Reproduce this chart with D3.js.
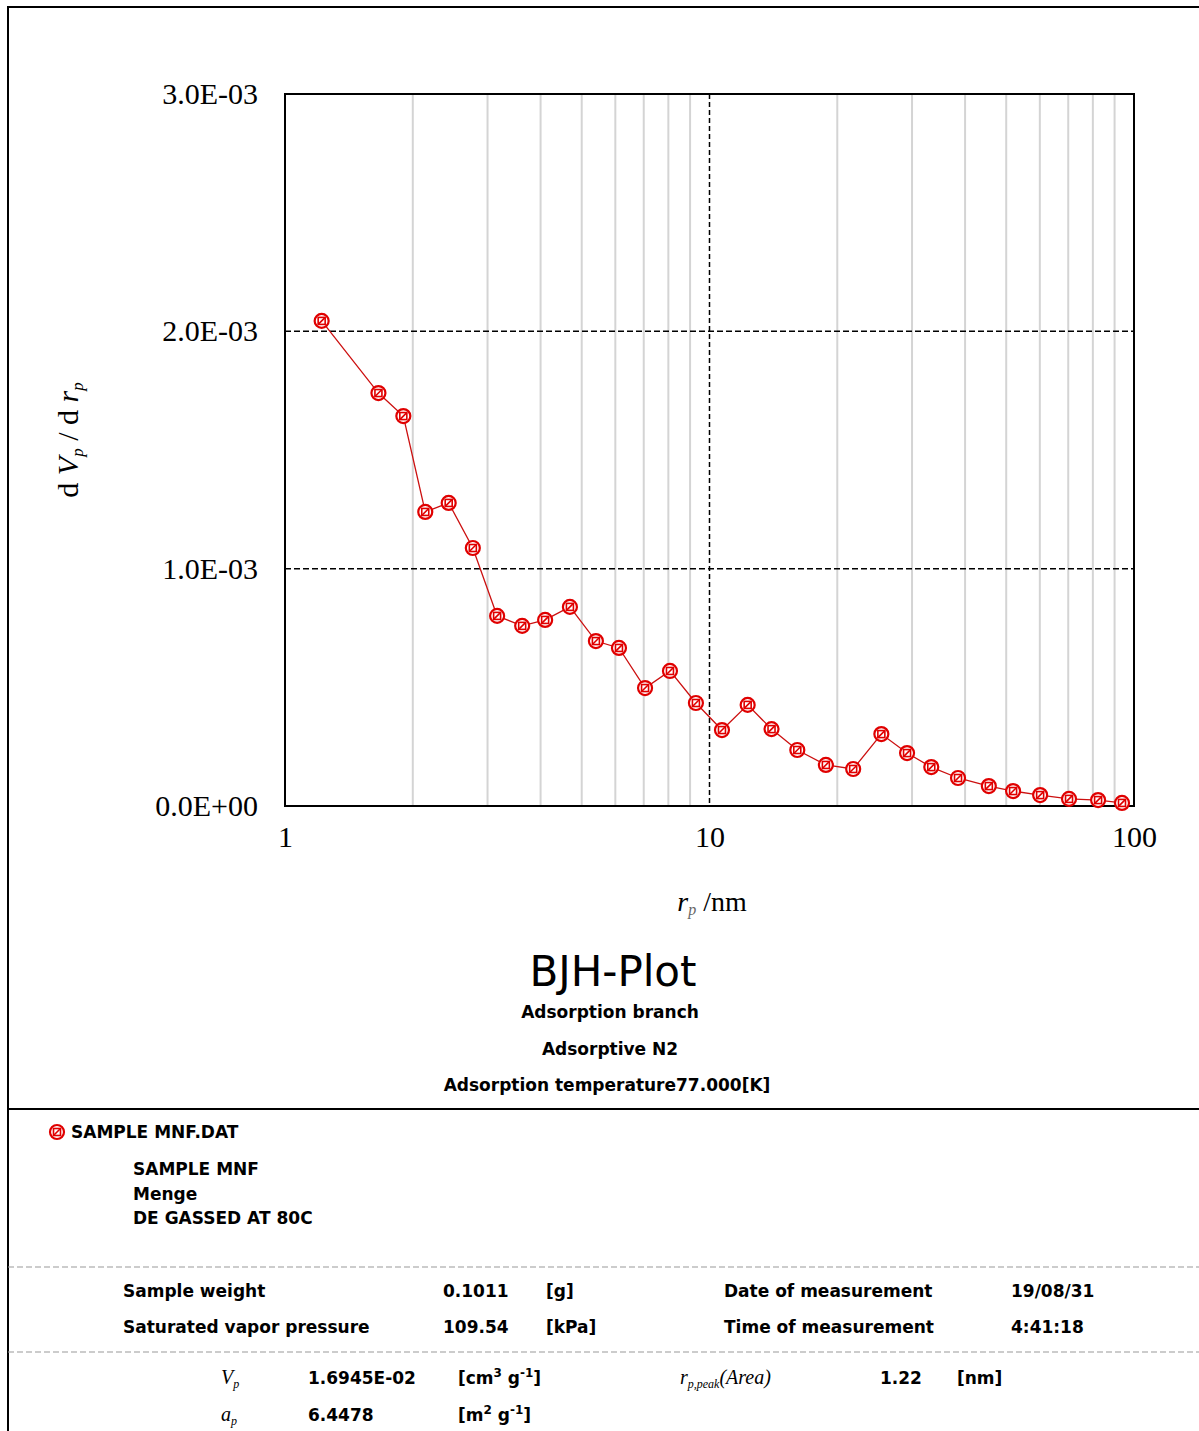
<!DOCTYPE html>
<html>
<head>
<meta charset="utf-8">
<script src="https://cdn.jsdelivr.net/npm/d3@7"></script>
<style>
  html, body { margin: 0; padding: 0; background: #fff; }
  svg { display: block; }
  .serif { font-family: 'Liberation Serif', 'DejaVu Serif', serif; }
  .sans { font-family: 'DejaVu Sans', Verdana, sans-serif; }
</style>
</head>
<body>
<svg id="chart" width="1199" height="1431"></svg>
<script>
// pore radius (nm) and dVp/drp
const rp = [1.22, 1.66, 1.90, 2.14, 2.43, 2.77, 3.16, 3.62, 4.10, 4.69, 5.40, 6.12, 7.05, 8.07, 9.29,
  10.7, 12.3, 14.0, 16.1, 18.8, 21.8, 25.4, 29.2, 33.3, 38.5, 45.5, 51.9, 60.1, 70.3, 82.3, 93.7]
const dVdr = [2.044e-3, 1.740e-3, 1.643e-3, 1.239e-3, 1.277e-3, 1.087e-3, 0.801e-3, 0.759e-3, 0.784e-3,
  0.839e-3, 0.695e-3, 0.666e-3, 0.497e-3, 0.569e-3, 0.434e-3, 0.320e-3, 0.426e-3, 0.324e-3, 0.236e-3,
  0.173e-3, 0.156e-3, 0.303e-3, 0.223e-3, 0.164e-3, 0.118e-3, 0.084e-3, 0.063e-3, 0.046e-3, 0.030e-3,
  0.025e-3, 0.013e-3]

const xTicks = [1, 10, 100]
const yTicks = [0, 1e-3, 2e-3, 3e-3]
const subtitles = ['Adsorption branch', 'Adsorptive N2', 'Adsorption temperature77.000[K]']
const sampleLines = ['SAMPLE MNF', 'Menge', 'DE GASSED AT 80C']
const condLeft = [['Sample weight', '0.1011', '[g]'], ['Saturated vapor pressure', '109.54', '[kPa]']]
const condRight = [['Date of measurement', '19/08/31'], ['Time of measurement', '4:41:18']]

const svg = d3.select('#chart')
const x = d3.scaleLog().domain([1, 100]).range([285, 1134])
const y = d3.scaleLinear().domain([0, 3e-3]).range([806, 94])
const FS = 17

const fmtE = (v) => {
  const [m, e] = v.toExponential(1).split('e')
  const n = +e
  return `${m}E${n < 0 ? '-' : '+'}${String(Math.abs(n)).padStart(2, '0')}`
}

// outer page frame
svg.append('rect').attr('x', 8).attr('y', 7).attr('width', 1300).attr('height', 1600)
  .attr('fill', 'none').attr('stroke', '#000').attr('stroke-width', 2)

// minor log grid
const minor = x.ticks().filter(d => !xTicks.includes(d))
svg.append('g').selectAll('line').data(minor).enter().append('line')
  .attr('x1', d => x(d)).attr('x2', d => x(d))
  .attr('y1', y(3e-3)).attr('y2', y(0))
  .attr('stroke', '#d4d4d4').attr('stroke-width', 2)

// major dashed grid
svg.append('line').attr('x1', x(10)).attr('x2', x(10)).attr('y1', y(3e-3)).attr('y2', y(0))
  .attr('stroke', '#000').attr('stroke-width', 1.5).attr('stroke-dasharray', '5,3')
svg.append('g').selectAll('line').data(yTicks.slice(1, 3)).enter().append('line')
  .attr('x1', x(1)).attr('x2', x(100)).attr('y1', d => y(d)).attr('y2', d => y(d))
  .attr('stroke', '#000').attr('stroke-width', 1.5).attr('stroke-dasharray', '6,3')

// plot box
svg.append('rect').attr('x', x(1)).attr('y', y(3e-3))
  .attr('width', x(100) - x(1)).attr('height', y(0) - y(3e-3))
  .attr('fill', 'none').attr('stroke', '#000').attr('stroke-width', 2)

// axes (labels only)
const gy = svg.append('g').attr('transform', `translate(${x(1)},0)`)
  .call(d3.axisLeft(y).tickValues(yTicks).tickFormat(fmtE).tickSize(0).tickPadding(27))
const gx = svg.append('g').attr('transform', `translate(0,${y(0)})`)
  .call(d3.axisBottom(x).tickValues(xTicks).tickFormat(d3.format('d')).tickSize(0).tickPadding(20))
;[gx, gy].forEach(g => {
  g.select('.domain').remove()
  g.selectAll('text').attr('class', 'serif').attr('font-size', 30).attr('fill', '#000')
})

// axis titles
const yl = svg.append('text').attr('class', 'serif').attr('font-size', 30)
  .attr('text-anchor', 'middle').attr('transform', 'translate(78,440) rotate(-90)')
yl.append('tspan').text('d ')
yl.append('tspan').attr('font-style', 'italic').text('V')
yl.append('tspan').attr('font-style', 'italic').attr('font-size', 17).attr('baseline-shift', '-5').text('p')
yl.append('tspan').text(' / d ')
yl.append('tspan').attr('font-style', 'italic').text('r')
yl.append('tspan').attr('font-style', 'italic').attr('font-size', 17).attr('baseline-shift', '-5').text('p')

const xl = svg.append('text').attr('class', 'serif').attr('font-size', 28)
  .attr('text-anchor', 'middle').attr('x', 712).attr('y', 911)
xl.append('tspan').attr('font-style', 'italic').text('r')
xl.append('tspan').attr('font-style', 'italic').attr('font-size', 16).attr('baseline-shift', '-4').attr('fill', '#666').text('p')
xl.append('tspan').text('  /nm')

// marker symbol
const marker = (g) => {
  g.append('circle').attr('r', 7).attr('fill', '#fff').attr('stroke', '#e00000').attr('stroke-width', 2.2)
  g.append('rect').attr('x', -3.5).attr('y', -3.5).attr('width', 7).attr('height', 7)
    .attr('fill', 'none').attr('stroke', '#e00000').attr('stroke-width', 1.6)
  g.append('line').attr('x1', -3.5).attr('y1', 3.5).attr('x2', 3.5).attr('y2', -3.5)
    .attr('stroke', '#e00000').attr('stroke-width', 1.6)
}

const pts = rp.map((r, i) => [r, dVdr[i]])
svg.append('path').datum(pts)
  .attr('d', d3.line().x(d => x(d[0])).y(d => y(d[1])))
  .attr('fill', 'none').attr('stroke', '#cc1010').attr('stroke-width', 1.3)
svg.append('g').selectAll('g').data(pts).enter().append('g')
  .attr('transform', d => `translate(${x(d[0])},${y(d[1])})`)
  .each(function () { marker(d3.select(this)) })

// titles
svg.append('text').attr('class', 'sans').attr('font-size', 42).attr('text-anchor', 'middle')
  .attr('x', 613).attr('y', 986).text('BJH-Plot')
svg.append('g').selectAll('text').data(subtitles).enter().append('text')
  .attr('class', 'sans').attr('font-size', FS).attr('font-weight', 'bold').attr('text-anchor', 'middle')
  .attr('x', (d, i) => i === 2 ? 607 : 610).attr('y', (d, i) => 1018 + i * 36.5).text(d => d)

// legend / sample block
svg.append('line').attr('x1', 8).attr('x2', 1199).attr('y1', 1109).attr('y2', 1109)
  .attr('stroke', '#000').attr('stroke-width', 2)
marker(svg.append('g').attr('transform', 'translate(57,1132)'))
svg.append('text').attr('class', 'sans').attr('font-size', FS).attr('font-weight', 'bold')
  .attr('x', 71).attr('y', 1138).text('SAMPLE MNF.DAT')
svg.append('g').selectAll('text').data(sampleLines).enter().append('text')
  .attr('class', 'sans').attr('font-size', FS).attr('font-weight', 'bold')
  .attr('x', 133).attr('y', (d, i) => 1175 + i * 24.5).text(d => d)

svg.append('g').selectAll('line').data([1267, 1352]).enter().append('line')
  .attr('x1', 8).attr('x2', 1199).attr('y1', d => d).attr('y2', d => d)
  .attr('stroke', '#999').attr('stroke-width', 1).attr('stroke-dasharray', '6,3')

const info = svg.append('g').attr('class', 'sans').attr('font-size', FS).attr('font-weight', 'bold')
condLeft.forEach((row, i) => {
  const yy = 1297 + i * 36
  info.append('text').attr('x', 123).attr('y', yy).text(row[0])
  info.append('text').attr('x', 443).attr('y', yy).text(row[1])
  info.append('text').attr('x', 546).attr('y', yy).text(row[2])
})
condRight.forEach((row, i) => {
  const yy = 1297 + i * 36
  info.append('text').attr('x', 724).attr('y', yy).text(row[0])
  info.append('text').attr('x', 1011).attr('y', yy).text(row[1])
})

// results rows
const sym = (xx, yy, main, sub, tail) => {
  const t = svg.append('text').attr('class', 'serif').attr('font-size', 20).attr('font-style', 'italic')
    .attr('x', xx).attr('y', yy)
  t.append('tspan').text(main)
  t.append('tspan').attr('font-size', 12).attr('baseline-shift', '-4').text(sub)
  if (tail) t.append('tspan').attr('font-size', 20).text(tail)
}
sym(221, 1384, 'V', 'p')
sym(221, 1421, 'a', 'p')
sym(680, 1384, 'r', 'p,peak', '(Area)')

const unit = (xx, yy, parts) => {
  const t = info.append('text').attr('x', xx).attr('y', yy)
  parts.forEach(p => {
    const s = t.append('tspan').text(p[0])
    if (p[1]) s.attr('font-size', 12).attr('baseline-shift', 'super')
  })
}
info.append('text').attr('x', 308).attr('y', 1384).text('1.6945E-02')
info.append('text').attr('x', 308).attr('y', 1421).text('6.4478')
unit(458, 1384, [['[cm'], ['3', true], [' g'], ['-1', true], [']']])
unit(458, 1421, [['[m'], ['2', true], [' g'], ['-1', true], [']']])
info.append('text').attr('x', 880).attr('y', 1384).text('1.22')
info.append('text').attr('x', 957).attr('y', 1384).text('[nm]')
</script>
</body>
</html>
